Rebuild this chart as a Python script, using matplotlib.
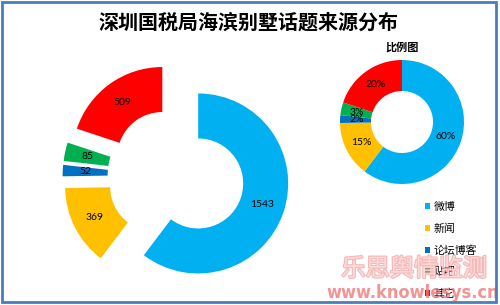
import matplotlib.pyplot as plt
import matplotlib.patheffects as pe
from matplotlib.patches import Rectangle

plt.rcParams['font.family'] = ['Noto Sans CJK SC', 'DejaVu Sans']

# 數據
categories = ['微博', '新闻', '论坛博客', '贴吧', '其它']
counts = [1543, 369, 52, 85, 509]
percents = ['60%', '15%', '2%', '3%', '20%']
colors = ['#00B0F0', '#FFC000', '#0070C0', '#00B050', '#FF0000']

W, H = 500, 305
fig = plt.figure(figsize=(W / 100, H / 100), dpi=100)
ax = fig.add_axes([0, 0, 1, 1])

# 左側分離環圖
cnt_iter = iter(counts)
wedges, _, texts = ax.pie(counts, colors=colors, startangle=90, counterclock=False,
                          center=(176, H - 176), radius=90, explode=[23.4] * 5,
                          wedgeprops=dict(width=45, linewidth=0),
                          autopct=lambda p: str(next(cnt_iter)), pctdistance=0.75,
                          frame=True)
for t in texts:
    t.set_fontsize(7.5)
    t.set_family(['Lato', 'DejaVu Sans'])

# 右側比例圖
pct_iter = iter(percents)
_, _, texts2 = ax.pie(counts, colors=colors, startangle=90, counterclock=False,
                      center=(402, H - 122), radius=62,
                      wedgeprops=dict(width=31, linewidth=0),
                      autopct=lambda p: next(pct_iter), pctdistance=0.74, frame=True)
for t in texts2:
    t.set_fontsize(7.5)
    t.set_family(['Lato', 'DejaVu Sans'])

ax.set_xlim(0, W)
ax.set_ylim(0, H)
ax.set_aspect('auto')
ax.axis('off')

ax.text(248, H - 22, '深圳国税局海滨别墅话题来源分布', ha='center', va='center',
        fontsize=14.4, fontweight='bold')
ax.text(402, H - 47, '比例图', ha='center', va='center', fontsize=8, fontweight='bold')

leg = ax.legend(wedges, categories, loc='upper left', bbox_to_anchor=(425 / W, (H - 202) / H),
                frameon=False, fontsize=7.8, handlelength=0.5, handleheight=0.5,
                handletextpad=0.3, labelspacing=1.05, borderpad=0, borderaxespad=0)

# 水印
ax.text(414, H - 269, '乐思舆情监测', ha='center', va='center', fontsize=17.5,
        color='#FFF4F4', alpha=0.6, zorder=10,
        path_effects=[pe.withStroke(linewidth=1.6, foreground='#F08888')])
ax.text(413, H - 293, 'www.knowlesys.cn', ha='center', va='center', fontsize=13,
        fontweight='bold', color='#F07878', alpha=0.8, zorder=10,
        family='DejaVu Sans', fontstretch='condensed')

# 外框
fig.patches.append(Rectangle((1.5 / W, 3.5 / H), 494 / W, 299.5 / H, transform=fig.transFigure,
                             fill=False, edgecolor='#4A7EBB', linewidth=2))

fig.savefig('out.png', dpi=100)
